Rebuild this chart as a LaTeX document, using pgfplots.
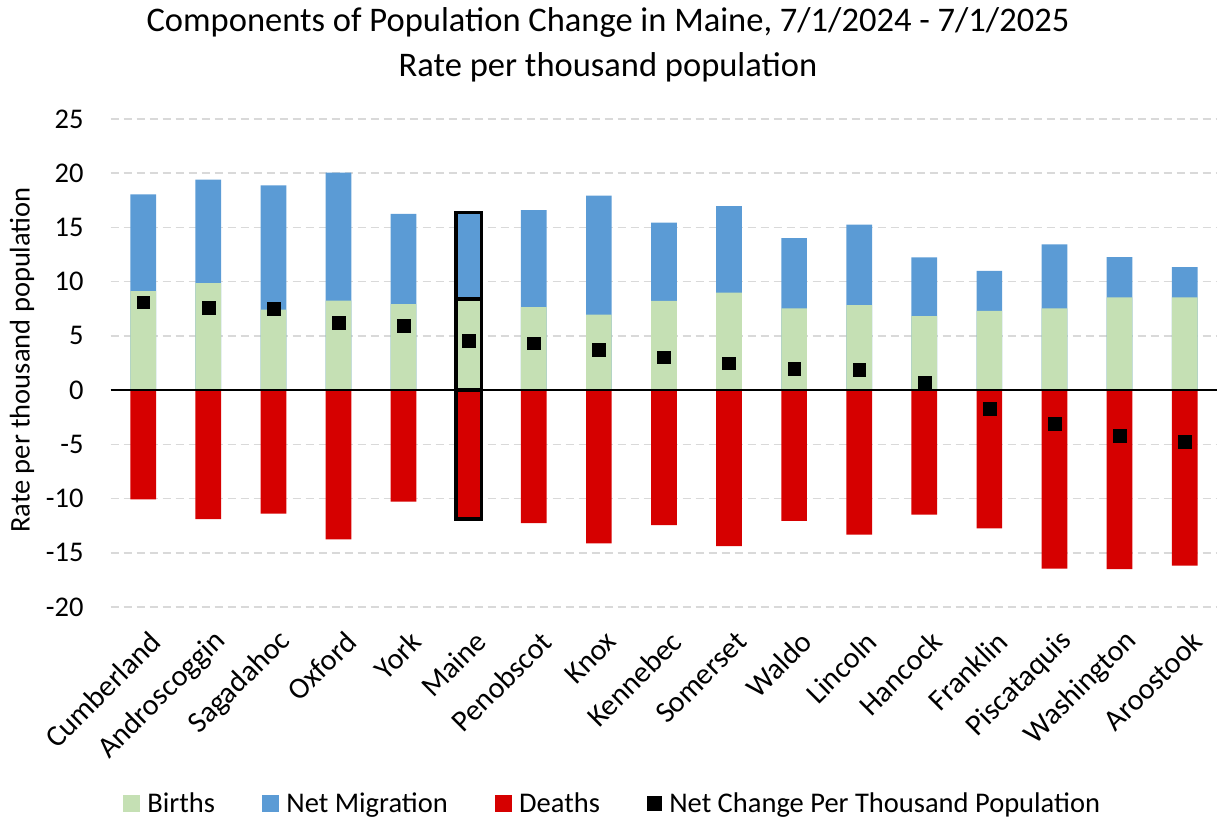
\documentclass[border=0pt]{standalone}
\usepackage{pgfplots}
\usepackage{pgfplotstable}
\usepackage{fontspec}
\setmainfont{Carlito}
\pgfplotsset{compat=1.18}
\definecolor{birthcol}{RGB}{197,224,180}
\definecolor{migcol}{RGB}{91,155,213}
\definecolor{deathcol}{RGB}{214,0,0}
\definecolor{gridcol}{RGB}{217,217,217}

\pgfplotstableread{
x births migration deaths net
0  9.12  8.94 -10.08  8.11
1  9.86  9.56 -11.89  7.62
2  7.43 11.46 -11.40  7.53
3  8.26 11.80 -13.76  6.24
4  7.93  8.32 -10.29  5.96
5  8.39  8.01 -11.89  4.55
6  7.65  8.94 -12.26  4.33
7  6.97 10.97 -14.13  3.72
8  8.23  7.22 -12.44  3.04
9  9.00  7.96 -14.38  2.49
10 7.53  6.48 -12.07  2.00
11 7.83  7.44 -13.33  1.90
12 6.82  5.41 -11.49  0.65
13 7.31  3.69 -12.75 -1.72
14 7.53  5.90 -16.47 -3.10
15 8.54  3.72 -16.50 -4.21
16 8.54  2.80 -16.19 -4.76
}\datatable

\begin{document}
\begin{tikzpicture}
\useasboundingbox (0,0) rectangle (1221pt,818pt);
\node[align=center, font=\fontsize{34.5}{45}\selectfont] at (608pt,773.5pt)
  {Components of Population Change in Maine, 7/1/2024 - 7/1/2025\\Rate per thousand population};
\begin{axis}[
  at={(110.7pt,211pt)}, anchor=south west,
  scale only axis, width=1106.5pt, height=488pt,
  xmin=-0.5, xmax=16.5, ymin=-20, ymax=25,
  ytick={-20,-15,...,25},
  xtick={0,...,16},
  xticklabels={Cumberland,Androscoggin,Sagadahoc,Oxford,York,Maine,Penobscot,Knox,Kennebec,Somerset,Waldo,Lincoln,Hancock,Franklin,Piscataquis,Washington,Aroostook},
  /pgf/number format/assume math mode=true,
  axis line style={draw=none},
  major tick length=0pt,
  ymajorgrids,
  major grid style={gridcol, line width=1.5pt, dash pattern=on 8pt off 5pt},
  tick label style={font=\fontsize{28.5}{34}\selectfont},
  yticklabel style={anchor=east, inner sep=0pt, xshift=-27pt},
  xticklabel style={font=\fontsize{30}{36}\selectfont, rotate=45, anchor=east, inner sep=0pt, xshift=-12pt, yshift=-30pt},
  ylabel={Rate per thousand population},
  ylabel style={font=\fontsize{28.5}{34}\selectfont, at={(ticklabel cs:0.5)}, anchor=center},
  every axis y label/.append style={at={(-88.7pt,247pt)}, rotate=0},
  legend columns=4,
  legend style={draw=none, fill=none, font=\fontsize{28.5}{34}\selectfont,
    at={(0.4535,-0.4016)}, anchor=center,
    /tikz/every even column/.append style={column sep=45pt}},
]
\addlegendimage{legend image code/.code={\fill[birthcol] (0pt,-8pt) rectangle (16pt,8pt); \path (22pt,0pt);}}
\addlegendentry{Births}
\addlegendimage{legend image code/.code={\fill[migcol] (0pt,-8pt) rectangle (16pt,8pt); \path (22pt,0pt);}}
\addlegendentry{Net Migration}
\addlegendimage{legend image code/.code={\fill[deathcol] (0pt,-8pt) rectangle (16pt,8pt); \path (22pt,0pt);}}
\addlegendentry{Deaths}
\addlegendimage{legend image code/.code={\fill[black] (0pt,-7pt) rectangle (14pt,7pt); \path (20pt,0pt);}}
\addlegendentry{Net Change Per Thousand Population}

\addplot[ybar, bar width=25.7pt, bar shift=0pt, fill=migcol, draw=none, forget plot]
  table[x=x, y expr=\thisrow{births}+\thisrow{migration}] {\datatable};
\addplot[ybar, bar width=25.7pt, bar shift=0pt, fill=birthcol, draw=none, forget plot]
  table[x=x, y=births] {\datatable};
\addplot[ybar, bar width=25.7pt, bar shift=0pt, fill=deathcol, draw=none, forget plot]
  table[x=x, y=deaths] {\datatable};
% Maine outlined
\addplot[ybar, bar width=25.7pt, bar shift=0pt, fill=migcol, draw=black, line width=3.5pt, forget plot, restrict x to domain=4.5:5.5]
  table[x=x, y expr=\thisrow{births}+\thisrow{migration}] {\datatable};
\addplot[ybar, bar width=25.7pt, bar shift=0pt, fill=birthcol, draw=black, line width=3.5pt, forget plot, restrict x to domain=4.5:5.5]
  table[x=x, y=births] {\datatable};
\addplot[ybar, bar width=25.7pt, bar shift=0pt, fill=deathcol, draw=black, line width=3.5pt, forget plot, restrict x to domain=4.5:5.5]
  table[x=x, y=deaths] {\datatable};
\draw[black, line width=1.5pt] (axis cs:-0.5,0) -- (axis cs:16.5,0);
\addplot[only marks, mark=square*, mark size=6.4pt, black, forget plot]
  table[x=x, y=net] {\datatable};
\end{axis}
\end{tikzpicture}
\end{document}
